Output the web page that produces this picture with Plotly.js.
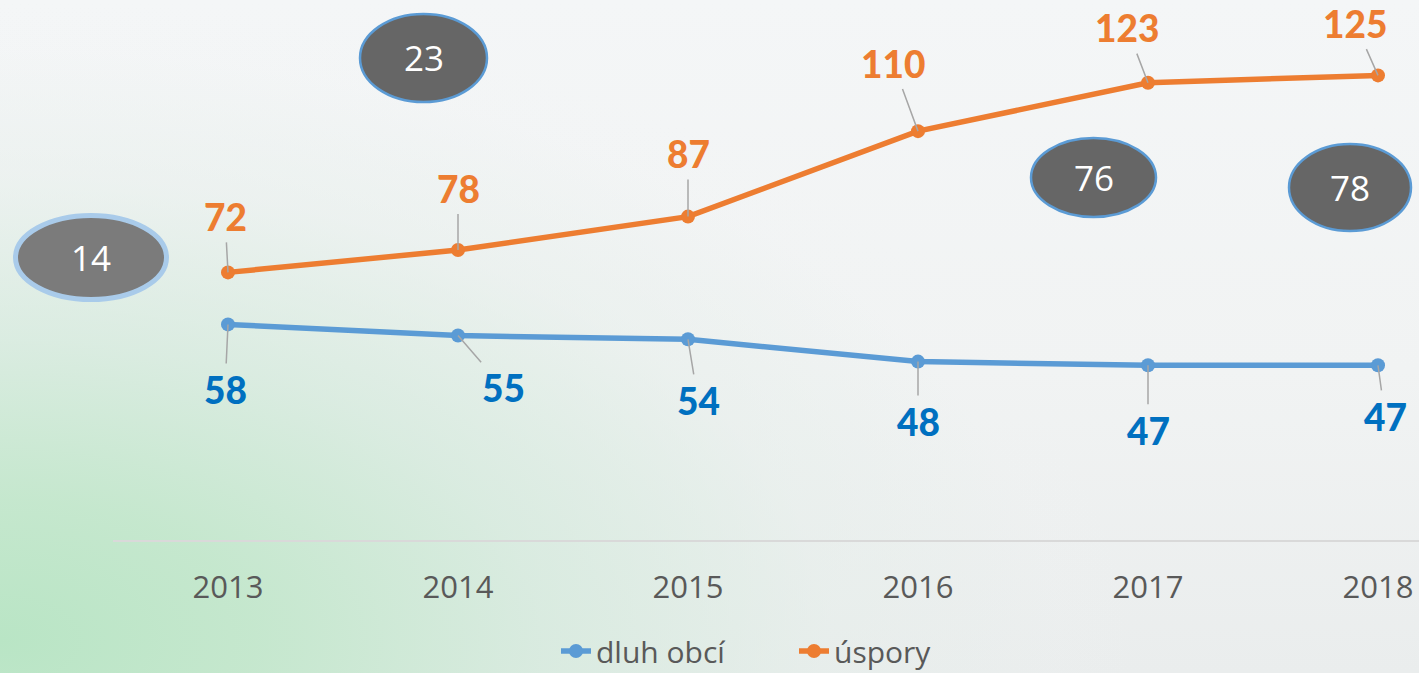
<!DOCTYPE html>
<html>
<head>
<meta charset="utf-8">
<script src="https://cdn.plot.ly/plotly-3.0.1.min.js"></script>
<style>
html,body{margin:0;padding:0;width:1419px;height:673px;overflow:hidden;}
body{background:
  radial-gradient(ellipse 1150px 640px at 0px 640px, rgba(185,229,197,1) 0%, rgba(195,231,204,0.95) 22%, rgba(212,234,220,0.78) 47%, rgba(228,238,233,0.45) 72%, rgba(240,243,243,0.1) 92%, rgba(243,245,246,0) 100%),
  linear-gradient(180deg, #f4f6f7 0%, #f1f3f3 55%, #eaeded 100%);}
#chart{width:1419px;height:673px;}
</style>
</head>
<body>
<div id="chart"></div>
<script>
// ---- data ----
const years = [2013, 2014, 2015, 2016, 2017, 2018];
const tickLabels = ['2013', '2014', '2015', '2016', '2017', '2018'];
const dluhObci = [58, 55, 54, 48, 47, 47];
const uspory = [72, 78, 87, 110, 123, 125];
const seriesNames = ['dluh obcí', 'úspory'];
const bubbleValues = ['14', '23', '76', '78'];

// ---- styling / layout helpers ----
const W = 1419, H = 673;
const M = {l: 113, r: 0, t: 0, b: 133};
const PW = W - M.l - M.r, PH = H - M.t - M.b;
const px = x => (x - M.l) / PW;
const py = y => 1 - (y - M.t) / PH;

const blue = '#5b9bd5', orange = '#ed7d31';
const blueLbl = '#0070c0', orangeLbl = '#ed7d31';

// label offsets (pixels) for data labels
const blueOff = [[-3, 65], [45, 52], [10, 61], [0, 60], [0, 65], [7, 51]];
const orangeOff = [[-3, -56], [0, -62], [0, -63], [-25, -68], [-21, -55], [-23, -52]];

// bubble boxes in pixels: [x0, y0, x1, y1, fill, line, lineWidth]
const bubbleBoxes = [
  [15.5, 215.5, 166.5, 299.5, '#7b7b7b', '#a9cbea', 5],
  [360, 14, 487, 102, '#666666', '#5b9bd5', 2.5],
  [1031, 138, 1156, 217, '#666666', '#5b9bd5', 2.5],
  [1289, 144, 1411, 231, '#666666', '#5b9bd5', 2.5]
];

const traces = [
  {x: years, y: dluhObci, name: seriesNames[0], type: 'scatter', mode: 'lines+markers',
   line: {color: blue, width: 5.5}, marker: {color: blue, size: 14}, cliponaxis: false},
  {x: years, y: uspory, name: seriesNames[1], type: 'scatter', mode: 'lines+markers',
   line: {color: orange, width: 5.5}, marker: {color: orange, size: 14}, cliponaxis: false}
];

const annotations = [];
function addLabels(vals, offs, color) {
  vals.forEach((v, i) => {
    annotations.push({
      x: years[i], y: v, xref: 'x', yref: 'y', text: String(v),
      showarrow: true, arrowhead: 0, arrowwidth: 1.5, arrowcolor: '#a6a6a6',
      ax: offs[i][0], ay: offs[i][1], standoff: 0, startstandoff: 3,
      font: {family: 'Lato, "Open Sans", sans-serif', size: 37, color: color, weight: 900},
      borderpad: 0
    });
  });
}
addLabels(dluhObci, blueOff, blueLbl);
addLabels(uspory, orangeOff, orangeLbl);

const shapes = [];
bubbleBoxes.forEach((b, i) => {
  shapes.push({type: 'circle', xref: 'paper', yref: 'paper',
    x0: px(b[0]), x1: px(b[2]), y0: py(b[3]), y1: py(b[1]),
    fillcolor: b[4], line: {color: b[5], width: b[6]}, layer: 'above'});
  annotations.push({xref: 'paper', yref: 'paper', x: px((b[0] + b[2]) / 2), y: py((b[1] + b[3]) / 2),
    text: bubbleValues[i], showarrow: false, xanchor: 'center', yanchor: 'middle',
    font: {family: '"Open Sans", sans-serif', size: 35, color: '#ffffff'}});
});

const layout = {
  width: W, height: H,
  margin: M,
  paper_bgcolor: 'rgba(0,0,0,0)', plot_bgcolor: 'rgba(0,0,0,0)',
  showlegend: true,
  legend: {orientation: 'h', xref: 'container', yref: 'container', x: 556 / W, y: 1 - 625 / H,
    xanchor: 'left', yanchor: 'top',
    font: {family: '"Open Sans", sans-serif', size: 30, color: '#595959'},
    bgcolor: 'rgba(0,0,0,0)', entrywidth: 193, entrywidthmode: 'pixels'},
  xaxis: {range: [2012.5, 2012.5 + PW / 230], tickvals: years, ticktext: tickLabels,
    showgrid: false, zeroline: false, showline: true, linecolor: '#d9d9d9', linewidth: 1.5,
    ticks: '', ticklabelstandoff: 19,
    tickfont: {family: '"Open Sans", sans-serif', size: 31, color: '#595959'}, fixedrange: true},
  yaxis: {range: [0, PH / 3.717], visible: false, fixedrange: true},
  shapes: shapes,
  annotations: annotations
};

Plotly.newPlot('chart', traces, layout, {displayModeBar: false, staticPlot: true});
</script>
</body>
</html>
